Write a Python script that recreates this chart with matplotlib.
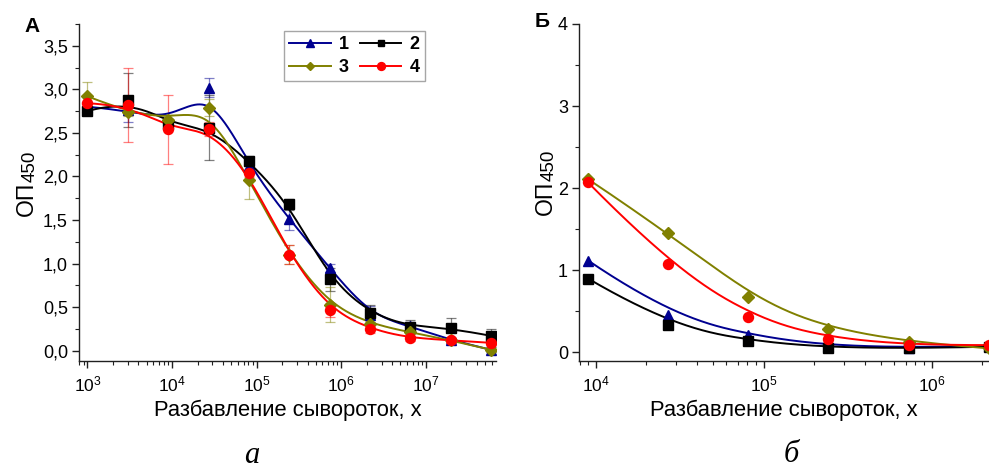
import numpy as np
import matplotlib
matplotlib.use("Agg")
import matplotlib.pyplot as plt
from matplotlib.ticker import LogLocator, MultipleLocator, FuncFormatter, NullFormatter

plt.rcParams['font.family'] = ['Liberation Sans', 'DejaVu Sans']
plt.rcParams['mathtext.fontset'] = 'custom'
plt.rcParams['mathtext.rm'] = 'Liberation Sans'

# ---------------- data: panel A ----------------
dil_a = [1e3, 3e3, 9e3, 2.7e4, 8.1e4, 2.43e5, 7.29e5, 2.187e6, 6.561e6, 1.9683e7, 5.9049e7]
a1 = [2.80, 2.76, 2.61, 3.02, 2.12, 1.51, 0.95, 0.41, 0.28, 0.12, 0.01]
a2 = [2.75, 2.88, 2.60, 2.56, 2.18, 1.68, 0.82, 0.43, 0.27, 0.26, 0.17]
a3 = [2.92, 2.74, 2.65, 2.79, 1.96, 1.10, 0.53, 0.31, 0.21, 0.12, 0.01]
a4 = [2.84, 2.82, 2.54, 2.55, 2.04, 1.10, 0.47, 0.25, 0.14, 0.12, 0.09]
e1 = [0.05, 0.13, 0.05, 0.11, 0.05, 0.12, 0.05, 0.10, 0.05, 0.03, 0.03]
e2 = [0.04, 0.31, 0.05, 0.37, 0.06, 0.06, 0.13, 0.10, 0.08, 0.12, 0.08]
e3 = [0.16, 0.05, 0.05, 0.10, 0.22, 0.11, 0.20, 0.05, 0.05, 0.03, 0.03]
e4 = [0.10, 0.43, 0.40, 0.08, 0.05, 0.11, 0.08, 0.05, 0.03, 0.03, 0.03]

# ---------------- data: panel B ----------------
dil_b = [9e3, 2.7e4, 8.1e4, 2.43e5, 7.29e5, 2.187e6]
b1 = [1.12, 0.46, 0.21, 0.08, 0.06, 0.08]
b2 = [0.90, 0.33, 0.14, 0.06, 0.05, 0.07]
b3 = [2.11, 1.46, 0.68, 0.28, 0.13, 0.05]
b4 = [2.07, 1.08, 0.43, 0.17, 0.09, 0.09]

labels = ['1', '2', '3', '4']
colors = ['#000090', '#000000', '#808000', '#FF0000']
markers = ['^', 's', 'D', 'o']
msizes = [7.5, 6.5, 6.0, 7.2]

W, H = 989, 469


def bspline(xs, ys, num=400, k=3):
    """Clamped uniform cubic B-spline using the data points as control points
    (parametric in log10(x), y) - the 'B-Spline' connection style."""
    P = np.column_stack([np.log10(xs), ys])
    n = len(P)
    t = np.concatenate([np.zeros(k + 1), np.arange(1, n - k), np.full(k + 1, n - k)]).astype(float)
    u = np.linspace(0, n - k, num)
    u[-1] -= 1e-9
    N = np.array([((t[i] <= u) & (u < t[i + 1])).astype(float) for i in range(len(t) - 1)])
    for d in range(1, k + 1):
        Nn = []
        for i in range(len(t) - 1 - d):
            a = np.zeros_like(u) if t[i + d] == t[i] else (u - t[i]) / (t[i + d] - t[i]) * N[i]
            b = np.zeros_like(u) if t[i + d + 1] == t[i + 1] else (t[i + d + 1] - u) / (t[i + d + 1] - t[i + 1]) * N[i + 1]
            Nn.append(a + b)
        N = np.array(Nn)
    C = N.T @ P
    return 10 ** C[:, 0], C[:, 1]


fig = plt.figure(figsize=(W / 100, H / 100), dpi=100)
axA = fig.add_axes([79 / W, 1 - 360.7 / H, 417 / W, 336.7 / H])
axB = fig.add_axes([579 / W, 1 - 360.7 / H, 410 / W, 336.7 / H])


def style(ax):
    for s in ['top', 'right']:
        ax.spines[s].set_visible(False)
    for s in ['left', 'bottom']:
        ax.spines[s].set_linewidth(1.0)
        ax.spines[s].set_color('#202020')
    ax.set_xscale('log')
    ax.xaxis.set_major_locator(LogLocator(base=10, numticks=20))
    ax.xaxis.set_minor_locator(LogLocator(base=10, subs=np.arange(2, 10), numticks=20))
    ax.xaxis.set_minor_formatter(NullFormatter())
    ax.tick_params(which='major', direction='out', length=5, width=1, color='#202020')
    ax.tick_params(which='minor', direction='out', length=3, width=0.8, color='#202020')
    ax.tick_params(axis='x', labelsize=12.5, pad=5)
    ax.tick_params(axis='y', labelsize=13, pad=3)
    ax.set_xlabel('Разбавление сывороток, х', fontsize=15.8, va='top')
    ax.xaxis.set_label_coords(0.5, -0.117)


series_a = [a1, a2, a3, a4]
errs_a = [e1, e2, e3, e4]
handles = []
for ys, es, c, m, ms, lab in zip(series_a, errs_a, colors, markers, msizes, labels):
    axA.errorbar(dil_a, ys, yerr=es, fmt='none', ecolor=c, alpha=0.5, elinewidth=0.9,
                 capsize=3.5, capthick=0.9, zorder=2)
    cx, cy = bspline(dil_a, ys)
    axA.plot(cx, cy, color=c, lw=1.4, zorder=3)
    axA.plot(dil_a, ys, ls='none', marker=m, ms=ms, color=c, zorder=4)
    h, = axA.plot([], [], color=c, lw=1.4, marker=m, ms=ms - 1.5)
    handles.append(h)

style(axA)
axA.set_xlim(10 ** 2.9, 10 ** 7.83)
axA.set_ylim(-0.115, 3.75)
axA.yaxis.set_major_locator(MultipleLocator(0.5))
axA.yaxis.set_minor_locator(MultipleLocator(0.25))
axA.yaxis.set_major_formatter(FuncFormatter(lambda v, p: f'{v:.1f}'.replace('.', ',')))

order = [0, 2, 1, 3]
leg = axA.legend([handles[i] for i in order], [labels[i] for i in order], ncol=2,
                 loc='upper left', bbox_to_anchor=((284 - 79) / 417, (360.7 - 31) / 336.7),
                 frameon=True, fancybox=False,
                 handlelength=2.3, columnspacing=0.6, handletextpad=0.45, borderpad=0.3,
                 labelspacing=0.3, borderaxespad=0, prop={'weight': 'bold', 'size': 13})
leg.get_frame().set_edgecolor('#909090')
leg.get_frame().set_linewidth(1.0)

series_b = [b1, b2, b3, b4]
for ys, c, m, ms in zip(series_b, colors, markers, msizes):
    cx, cy = bspline(dil_b, ys)
    axB.plot(cx, cy, color=c, lw=1.4, zorder=3)
    axB.plot(dil_b, ys, ls='none', marker=m, ms=ms, color=c, zorder=4)

style(axB)
axB.set_xlim(10 ** 3.9, 10 ** 6.342)
axB.set_ylim(-0.1, 4.0)
axB.yaxis.set_major_locator(MultipleLocator(1))
axB.yaxis.set_minor_locator(MultipleLocator(0.5))
axB.yaxis.set_major_formatter(FuncFormatter(lambda v, p: f'{v:.0f}'))


def ylabel2(x_px, y_px):
    t1 = fig.text(x_px / W, 1 - y_px / H, 'ОП', rotation=90, rotation_mode='anchor',
                  ha='left', va='baseline', fontsize=16.5)
    fig.canvas.draw()
    length = t1.get_window_extent().height
    fig.text((x_px + 1.5) / W, 1 - (y_px - length) / H, '450', rotation=90,
             rotation_mode='anchor', ha='left', va='baseline', fontsize=13.5)


ylabel2(33, 216)
ylabel2(552, 215)

fig.text(32 / W, 1 - 32 / H, 'А', fontsize=15, fontweight='bold', ha='center', va='baseline')
fig.text(542 / W, 1 - 27 / H, 'Б', fontsize=15, fontweight='bold', ha='center', va='baseline')
fig.text(252 / W, 0.028, 'а', fontsize=22, style='italic', family='Liberation Serif', ha='center', va='center')
fig.text(791 / W, 0.03, 'б', fontsize=22, style='italic', family='Liberation Serif', ha='center', va='center')

fig.savefig('out.png', dpi=100)
